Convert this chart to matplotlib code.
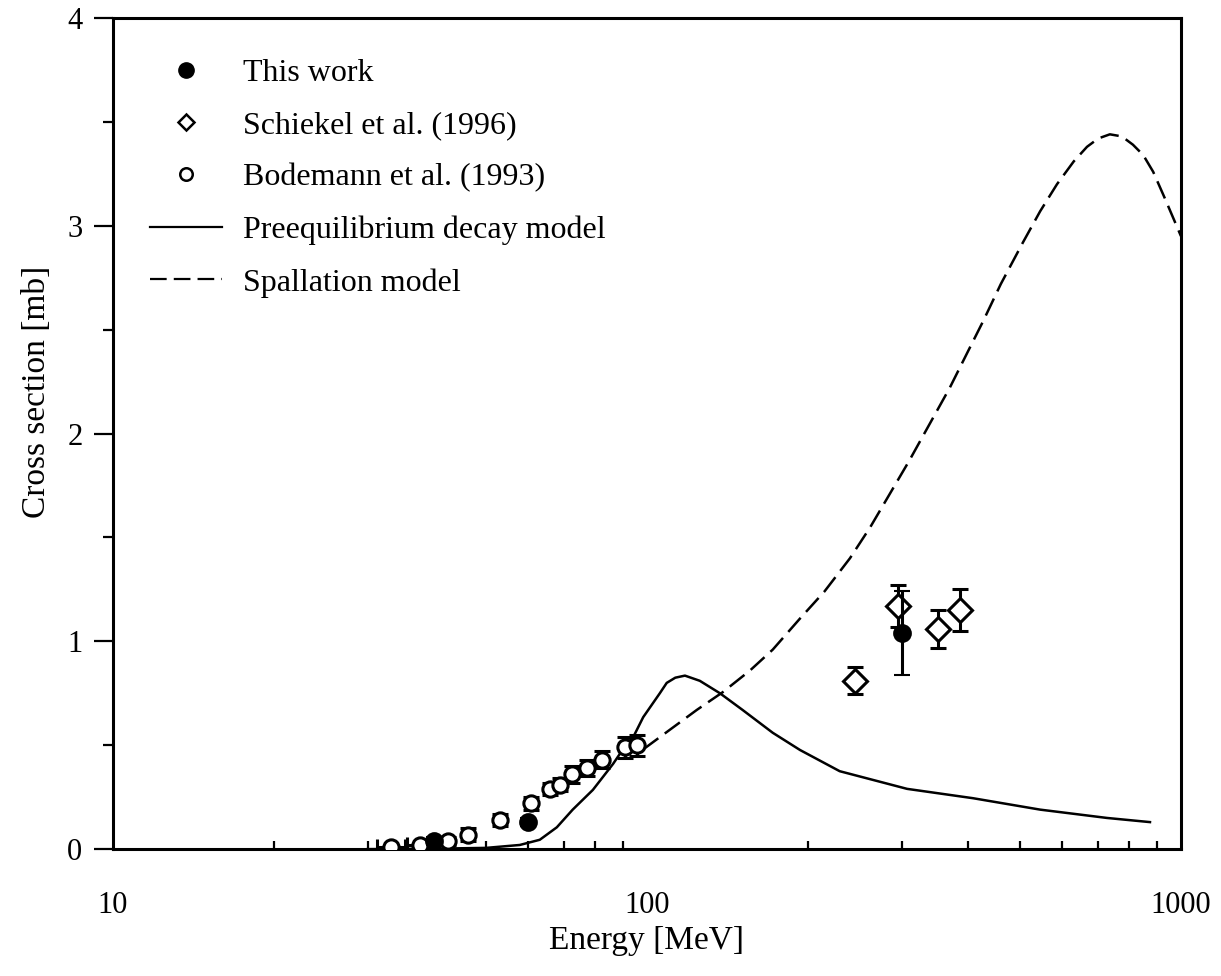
import matplotlib
matplotlib.use("Agg")
import matplotlib.pyplot as plt
from matplotlib.ticker import FixedLocator, NullFormatter, FixedFormatter

plt.rcParams['font.family'] = ['Liberation Serif', 'DejaVu Serif']

# This work (filled circles)
this_e = [40.0, 60.0, 300.0]
this_y = [0.04, 0.13, 1.04]
this_err = [0.02, 0.02, 0.20]

# Schiekel et al. (1996) (diamonds)
sch_e = [245.0, 295.0, 351.0, 385.0]
sch_y = [0.81, 1.17, 1.06, 1.15]
sch_err = [0.065, 0.10, 0.09, 0.10]

# Bodemann et al. (1993) (open circles)
bod_e = [33.2, 37.6, 42.4, 46.2, 53.1, 60.7, 65.8, 68.7, 72.4, 77.3, 82.4, 91.0, 95.7]
bod_y = [0.01, 0.02, 0.04, 0.07, 0.14, 0.22, 0.29, 0.31, 0.36, 0.39, 0.43, 0.49, 0.50]
bod_err = [0.0, 0.0, 0.02, 0.03, 0.03, 0.03, 0.03, 0.03, 0.04, 0.04, 0.04, 0.05, 0.05]
bod_xerr = [2.0, 2.0, 0, 0, 0, 0, 0, 0, 0, 0, 0, 0, 0]

# Preequilibrium decay model (solid)
pre_e = [30, 40, 50, 57.8, 63, 67.8, 72.6, 79.2, 86.4, 91.8, 94.3, 98.4, 105.7, 108.9,
         113, 117.8, 125.6, 137, 151, 172, 193.5, 229.6, 307, 408, 545, 727, 875]
pre_y = [0.0, 0.002, 0.006, 0.02, 0.045, 0.105, 0.19, 0.285, 0.41, 0.51, 0.54, 0.635, 0.75, 0.80,
         0.825, 0.835, 0.81, 0.75, 0.67, 0.56, 0.477, 0.375, 0.29, 0.245, 0.19, 0.15, 0.13]

# Spallation model (dashed)
spa_e = [98.4, 124, 138.6, 156, 172, 193.5, 215, 240, 262, 285, 310, 334, 369, 400, 426,
         460, 506, 545, 586, 630, 667, 700, 736, 775, 813, 850, 887, 930, 970, 1000]
spa_y = [0.48, 0.67, 0.755, 0.86, 0.96, 1.11, 1.24, 1.40, 1.55, 1.71, 1.87, 2.02, 2.22, 2.40,
         2.54, 2.72, 2.92, 3.07, 3.20, 3.31, 3.38, 3.42, 3.44, 3.43, 3.39, 3.34, 3.26, 3.14,
         3.03, 2.95]

fig = plt.figure(figsize=(12.21, 9.76), dpi=100)
ax = fig.add_axes([0.0925, 0.130, 0.8747, 0.8516])

dash = (0, (7.5, 3.2))
ax.plot(pre_e, pre_y, color='black', lw=1.8, label='Preequilibrium decay model', zorder=2)
ax.plot(spa_e, spa_y, color='black', lw=1.8, ls=dash, label='Spallation model', zorder=2)

eb_kw = dict(ecolor='black', elinewidth=2.2, capsize=6, capthick=2.2, ls='none')
ax.errorbar(bod_e, bod_y, yerr=bod_err, xerr=bod_xerr, fmt='o', ms=11, mfc='white',
            mec='black', mew=2.2, zorder=3, **eb_kw)
ax.errorbar(sch_e, sch_y, yerr=sch_err, fmt='D', ms=12, mfc='white',
            mec='black', mew=2.2, zorder=3, **eb_kw)
ax.errorbar(this_e, this_y, yerr=this_err, fmt='o', ms=12, mfc='black',
            mec='black', mew=1.5, zorder=4, **eb_kw)

# legend handles
h_this = ax.plot([], [], 'o', ms=11, mfc='black', mec='black')[0]
h_sch = ax.plot([], [], 'D', ms=8.5, mfc='white', mec='black', mew=1.8)[0]
h_bod = ax.plot([], [], 'o', ms=9, mfc='white', mec='black', mew=1.8)[0]
h_pre = ax.plot([], [], color='black', lw=1.6)[0]
h_spa = ax.plot([], [], color='black', lw=1.6, ls=dash)[0]
ax.legend([h_this, h_sch, h_bod, h_pre, h_spa],
          ['This work', 'Schiekel et al. (1996)', 'Bodemann et al. (1993)',
           'Preequilibrium decay model', 'Spallation model'],
          loc='upper left', bbox_to_anchor=(0.0225, 0.9665), frameon=False, fontsize=23,
          handlelength=2.26, handletextpad=0.66, labelspacing=0.72, borderaxespad=0.0)

ax.set_xscale('log')
ax.set_xlim(10, 1000)
ax.set_ylim(0, 4)

ax.xaxis.set_major_locator(FixedLocator([10, 100, 1000]))
ax.xaxis.set_major_formatter(FixedFormatter(['10', '100', '1000']))
ax.xaxis.set_minor_locator(FixedLocator([20, 30, 40, 50, 60, 70, 80, 90,
                                         200, 300, 400, 500, 600, 700, 800, 900]))
ax.xaxis.set_minor_formatter(NullFormatter())
ax.tick_params(axis='x', which='major', direction='in', length=0, pad=30, labelsize=22)
ax.tick_params(axis='x', which='minor', direction='in', length=6, width=1.6)

ax.set_yticks([0, 1, 2, 3, 4])
ax.set_yticks([0.5, 1.5, 2.5, 3.5], minor=True)
ax.tick_params(axis='y', which='major', direction='out', length=14, width=1.6, pad=8,
               labelsize=22)
ax.tick_params(axis='y', which='minor', direction='out', length=7, width=1.6)

for s in ax.spines.values():
    s.set_linewidth(2.2)

ax.set_xlabel('Energy [MeV]', fontsize=24, labelpad=4)
ax.set_ylabel('Cross section [mb]', fontsize=24)
ax.yaxis.set_label_coords(-0.057, 0.55)

fig.savefig('out.png', dpi=100)
